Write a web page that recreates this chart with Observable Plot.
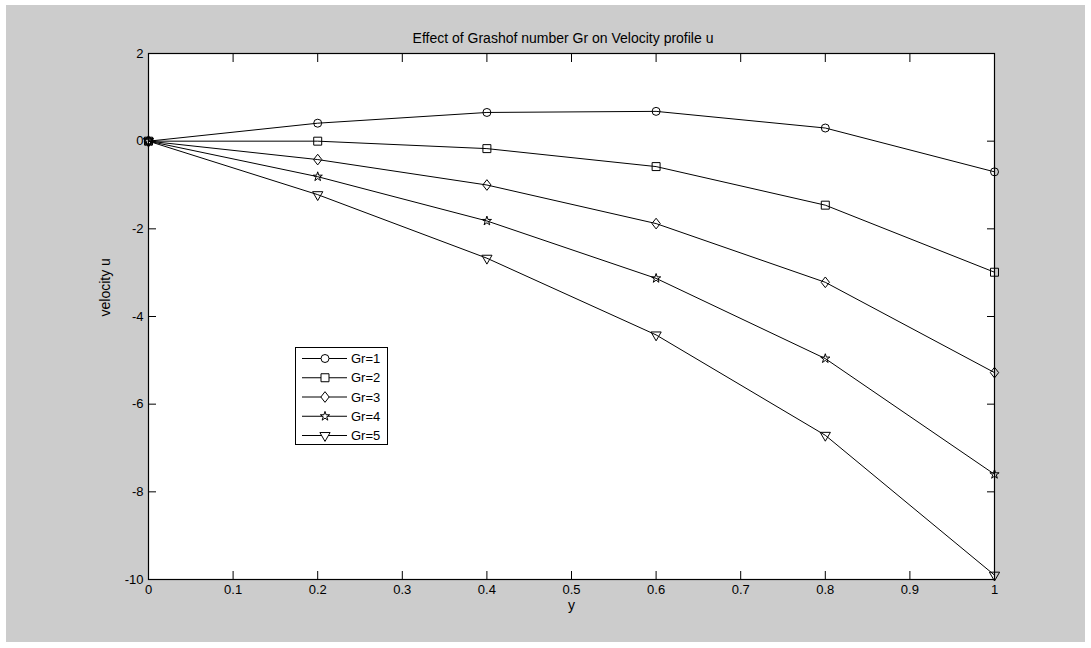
<!DOCTYPE html>
<html><head><meta charset="utf-8">
<script src="https://cdn.jsdelivr.net/npm/d3@7"></script>
<script src="https://cdn.jsdelivr.net/npm/@observablehq/plot@0.6"></script>
<style>
body{margin:0;background:#fff;font-family:"Liberation Sans",Arial,sans-serif;}
#fig{position:absolute;left:6px;top:5px;width:1079px;height:637px;background:#cccccc;overflow:hidden;}
#title{position:absolute;left:257px;top:25px;width:600px;text-align:center;font-size:14px;line-height:16px;color:#000;white-space:nowrap;}
#chart{position:absolute;left:0;top:0;}
#legend{position:absolute;left:289px;top:342px;}
</style></head><body>
<div id="fig"><div id="chart"></div><div id="title">Effect of Grashof number Gr on Velocity profile u</div><div id="legend"></div></div>
<script>
// ---- data ----
const yPos = [0, 0.2, 0.4, 0.6, 0.8, 1];
const gr1 = [0, 0.41, 0.655, 0.68, 0.30, -0.70];
const gr2 = [0, 0.0, -0.17, -0.58, -1.46, -2.99];
const gr3 = [0, -0.42, -1.0, -1.88, -3.22, -5.28];
const gr4 = [0, -0.81, -1.82, -3.13, -4.96, -7.60];
const gr5 = [0, -1.22, -2.67, -4.42, -6.71, -9.9];
const seriesNames = ["Gr=1", "Gr=2", "Gr=3", "Gr=4", "Gr=5"];
const seriesValues = [gr1, gr2, gr3, gr4, gr5];
const seriesSymbols = ["circle", "square", "diamond", "star", "triangle"];
const seriesRotate = [0, 0, 0, 0, 180];
const seriesR = [4, 4.5, 3.76, 2.9, 3.8];
const xTicks = [0, 0.1, 0.2, 0.3, 0.4, 0.5, 0.6, 0.7, 0.8, 0.9, 1];
const yTicks = [-10, -8, -6, -4, -2, 0, 2];
const xLabel = "y";
const yLabel = "velocity u";

// MATLAB-style wider diamond
const wideDiamond = {
  draw(context, size) {
    const a = Math.sqrt(size / 1.56), b = 0.78 * a;
    context.moveTo(0, -a); context.lineTo(b, 0); context.lineTo(0, a); context.lineTo(-b, 0); context.closePath();
  }
};
const symbolObj = {circle: d3.symbolCircle, square: d3.symbolSquare, diamond: wideDiamond, star: d3.symbolStar, triangle: d3.symbolTriangle};

const series = seriesNames.map((name, i) => yPos.map((y, j) => ({y, u: seriesValues[i][j], name})));

const marks = [Plot.frame({fill: "white", stroke: null})];
series.forEach((s, i) => {
  marks.push(Plot.line(s, {x: "y", y: "u", stroke: "black", strokeWidth: 1}));
  marks.push(Plot.dot(s, {x: "y", y: "u", symbol: symbolObj[seriesSymbols[i]], r: seriesR[i], rotate: seriesRotate[i], stroke: "black", fill: "none", strokeWidth: 1}));
});
marks.push(
  Plot.axisX(xTicks, {anchor: "bottom", tickSize: 0, tickPadding: 5, tickFormat: d => String(d), label: null, fontSize: 13}),
  Plot.axisX(xTicks, {anchor: "bottom", tickSize: -8, tickFormat: () => "", label: null}),
  Plot.axisX(xTicks, {anchor: "top", tickSize: -8, tickFormat: () => "", label: null}),
  Plot.axisY(yTicks, {anchor: "left", tickSize: 0, tickPadding: 5, tickFormat: d => String(d), label: null, fontSize: 13}),
  Plot.axisY(yTicks, {anchor: "left", tickSize: -8, tickFormat: () => "", label: null}),
  Plot.axisY(yTicks, {anchor: "right", tickSize: -8, tickFormat: () => "", label: null}),
  Plot.frame({stroke: "black", strokeWidth: 1.2}),
  Plot.text([xLabel], {frameAnchor: "bottom", dy: 30, fontSize: 14, fill: "black"}),
  Plot.text([yLabel], {frameAnchor: "left", dx: -43, rotate: -90, fontSize: 14, fill: "black"})
);

const chart = Plot.plot({
  width: 1079, height: 637,
  marginLeft: 142, marginRight: 91, marginTop: 48, marginBottom: 63,
  style: {background: "transparent", fontFamily: "Liberation Sans, Arial, sans-serif", fontSize: "13px", color: "black", overflow: "visible"},
  x: {domain: [0, 1], axis: null},
  y: {domain: [-10, 2], axis: null},
  marks
});
document.getElementById("chart").appendChild(chart);

// ---- legend ----
const lw = 93, lh = 98;
const lsvg = d3.select("#legend").append("svg").attr("width", lw).attr("height", lh)
  .style("font-family", "Liberation Sans, Arial, sans-serif");
lsvg.append("rect").attr("x", 0.5).attr("y", 0.5).attr("width", lw - 1).attr("height", lh - 1)
  .attr("fill", "white").attr("stroke", "black").attr("stroke-width", 1);
seriesNames.forEach((name, i) => {
  const cy = 11.5 + i * 19.25;
  const g = lsvg.append("g");
  g.append("line").attr("x1", 7).attr("x2", 52).attr("y1", cy).attr("y2", cy).attr("stroke", "black").attr("stroke-width", 1);
  const sz = Math.PI * seriesR[i] * seriesR[i];
  g.append("path").attr("d", d3.symbol(symbolObj[seriesSymbols[i]], sz)())
    .attr("transform", `translate(30,${cy}) rotate(${seriesRotate[i]})`)
    .attr("fill", "white").attr("stroke", "black").attr("stroke-width", 1);
  g.append("text").attr("x", 56).attr("y", cy).attr("dy", "0.35em").attr("font-size", 13).attr("fill", "black").text(name);
});
</script>
</body></html>
